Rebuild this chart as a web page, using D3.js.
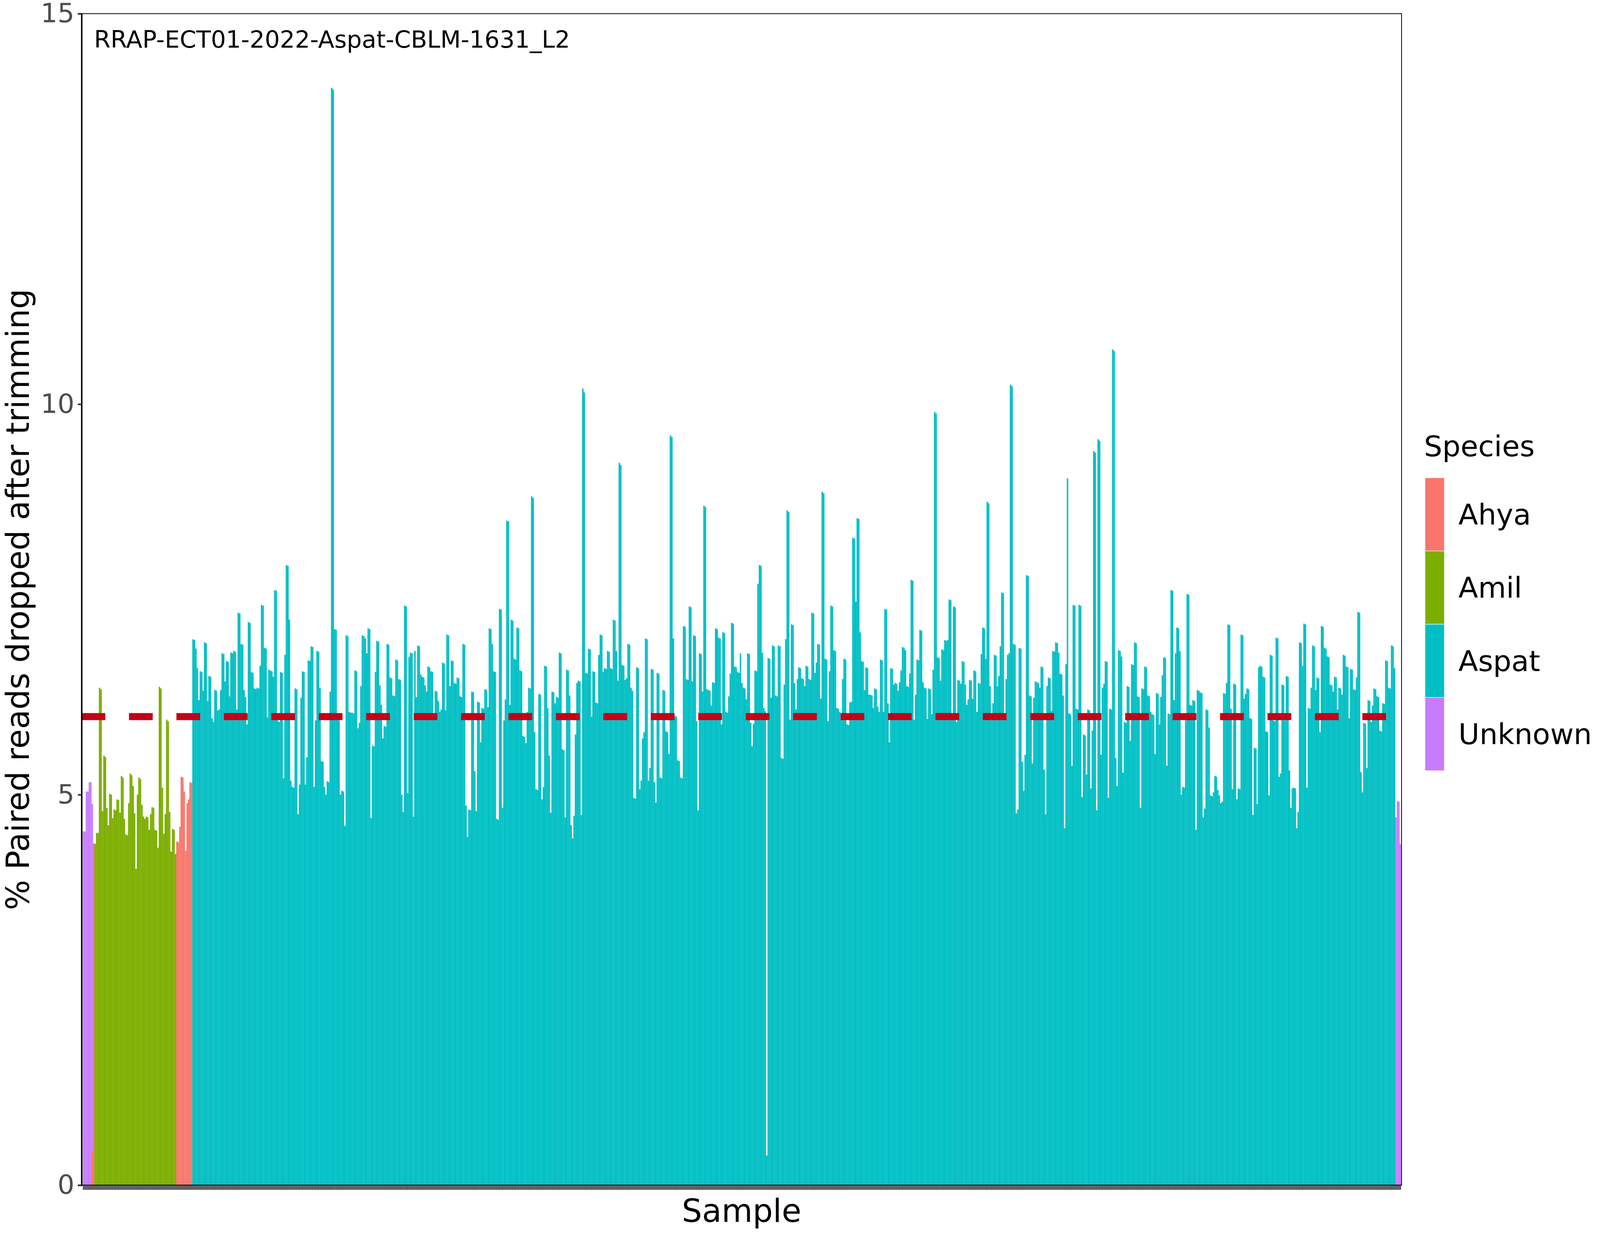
<!DOCTYPE html>
<meta charset="utf-8">
<style>
html, body { margin: 0; width: 100%; height: 100%; overflow: hidden; background: #fff; }
svg { display: block; }
text { font-family: "DejaVu Sans", sans-serif; }
</style>
<body>
<script src="https://d3js.org/d3.v7.min.js"></script>
<script>

// left to right
var unknownHead = [4.53, 4.53, 5.04, 5.04, 5.16, 5.16, 4.88];
var ahyaHead = [4.38];
var amilValues = [4.37, 4.51, 4.51, 6.37, 6.35, 4.79, 5.50, 5.48, 4.83, 4.61, 5.01, 5.00, 4.70, 4.81, 4.80, 4.94, 4.93, 4.77,
  5.24, 5.22, 4.69, 4.49, 4.48, 4.89, 5.27, 5.25, 5.11, 4.76, 4.05, 5.00, 5.22, 5.20, 4.87, 4.72, 4.69, 4.72, 4.71, 4.55,
  4.75, 4.84, 4.83, 4.55, 4.54, 4.32, 6.38, 6.36, 5.09, 4.50, 4.75, 5.96, 5.94, 4.78, 4.27, 4.56, 4.55, 4.24];
var ahyaValues = [4.40, 4.39, 4.59, 5.23, 5.22, 5.04, 4.28, 4.89, 4.94, 5.16, 5.15];

var aspatA = [6.99, 6.98, 6.87, 6.62, 6.21, 6.58, 6.57, 6.33, 6.95, 6.94, 6.20, 6.52, 6.51, 5.98, 5.93, 6.34, 6.33, 6.08,
  6.09, 6.34, 6.81, 6.80, 6.45, 6.71, 6.70, 6.26, 6.82, 6.81, 6.84, 6.83, 6.09, 7.33, 7.32, 6.93, 6.92, 6.34, 6.25, 5.90,
  7.21, 7.20];
var aspatB = [6.57, 6.56, 6.36, 6.35, 6.37, 6.36, 6.65, 7.43, 7.42, 6.88, 6.87, 5.99, 6.60, 6.59, 6.58, 6.51, 7.62, 7.61,
  5.95, 5.93, 6.57, 6.56, 5.21, 6.79, 7.94, 7.93, 7.24, 5.18, 5.10, 5.09, 6.36, 6.35, 4.75, 5.13, 6.24, 6.58, 6.57, 5.13,
  5.48, 6.72, 6.71, 6.90, 6.89, 5.10, 5.95, 6.84, 6.83, 6.37, 5.43, 5.42, 5.10, 5.00, 5.17, 5.16, 6.32, 14.05, 14.03,
  7.12, 7.11, 5.96, 5.95, 5.00, 5.05, 5.04, 4.60, 7.04, 7.03, 6.06, 6.05, 6.05, 6.04, 6.59, 6.58, 5.85, 5.92, 6.39, 7.04,
  7.03, 7.00, 6.81, 7.13, 7.12, 4.70, 5.63, 5.62, 6.57, 6.97, 6.96, 6.40, 6.15, 5.72, 5.88, 5.87, 6.93, 6.92, 6.50, 6.49,
  6.27, 6.26, 6.73, 6.72, 6.48, 6.47, 5.00, 4.78, 7.42, 7.41, 5.02, 6.76, 6.82, 6.81, 4.72];
var aspatC = [6.84, 6.25, 6.91, 6.90, 6.54, 6.51, 6.50, 6.40, 6.32, 6.64, 6.63, 6.58, 6.57, 6.00, 6.33, 6.32, 6.20, 6.06,
  6.09, 6.69, 6.68, 6.08, 7.05, 7.04, 6.39, 6.72, 6.71, 6.43, 6.42, 6.50, 6.49, 6.26, 6.25, 6.93, 6.92, 4.86, 4.46, 4.81,
  4.80, 6.32, 6.31, 5.30, 4.79, 6.19, 6.18, 5.67, 6.11, 6.10, 6.35, 6.34, 6.12, 7.13, 7.12, 6.93, 6.58, 6.57, 4.69, 4.68,
  7.38, 7.37, 4.83, 5.95, 6.22, 8.51, 8.50, 6.15, 7.24, 7.23, 6.74, 6.73, 7.14, 7.13, 6.59, 6.58, 5.75, 5.74, 5.66, 6.06,
  6.37, 6.36, 8.82, 8.80, 5.80, 5.07, 5.06, 6.29, 6.28, 4.94, 5.10, 6.65, 6.64, 6.11, 5.50, 4.77, 6.32, 6.31, 6.17, 6.25,
  6.24, 6.82, 6.81, 5.58, 5.57, 4.71, 6.60, 6.59, 6.27, 4.61, 4.44, 4.73, 5.77, 6.43];
var aspatD = [6.46, 6.45, 4.74, 10.2, 10.15, 6.56, 6.55, 6.87, 6.86, 6.00, 6.58, 6.57, 6.18, 6.17, 6.79, 7.05, 7.04, 6.57,
  6.62, 6.61, 6.84, 6.83, 6.62, 6.61, 7.24, 7.23, 6.84, 6.46, 9.25, 9.22, 6.66, 6.65, 6.47, 6.49, 6.93, 6.92, 6.37, 6.33,
  4.96, 4.95, 6.63, 6.62, 5.07, 5.18, 5.72, 5.80, 7.00, 6.99, 5.18, 5.34, 6.61, 6.60, 5.16, 4.90, 6.56, 6.55, 5.22, 5.21,
  6.34, 6.33, 5.81, 5.80, 5.52, 9.60, 9.58, 7.00, 6.01, 6.00, 5.44, 5.43, 5.22, 5.21, 7.16, 7.15, 6.48, 6.47, 7.41, 7.40,
  6.45, 7.04, 7.03, 5.94, 4.80, 6.81, 6.80, 6.32, 8.70, 8.68, 6.35, 6.34, 6.33, 6.14, 6.44, 6.43, 7.13, 7.12, 7.01, 7.00,
  5.90, 7.08, 7.07, 6.06, 6.05, 6.26, 6.55, 7.20, 7.19, 6.64, 6.63, 6.57, 6.56, 6.81];
var aspatE = [6.43, 6.37, 6.36, 6.22, 6.81, 6.80, 5.92, 5.62, 5.91, 6.59, 6.58, 7.70, 7.94, 7.93, 6.82, 6.11, 6.07, 0.38,
  6.75, 6.74, 6.24, 6.91, 6.90, 6.27, 6.26, 6.91, 6.90, 5.47, 5.46, 6.41, 6.99, 8.64, 8.62, 5.96, 7.18, 7.17, 6.43, 6.09,
  6.48, 6.63, 6.62, 6.49, 6.48, 6.39, 6.65, 6.64, 6.48, 6.47, 7.33, 7.32, 6.56, 6.69, 6.93, 6.92, 6.23, 8.88, 8.86, 6.74,
  6.73, 5.94, 6.58, 7.42, 7.41, 6.85, 6.84, 6.11, 6.10, 6.06, 5.96, 6.48, 6.74, 6.73, 5.90, 5.89, 6.18, 6.19, 8.29, 8.28,
  7.47, 8.54, 8.53, 7.08, 6.71, 6.70, 6.34, 6.63, 6.62, 6.28, 6.28, 6.27, 6.11, 6.36, 6.35, 6.13, 6.06, 6.73, 6.72, 6.06,
  7.38, 7.37, 6.17, 5.67, 6.62, 6.61, 6.41, 6.43, 6.42, 6.33, 6.44, 6.59, 6.89, 6.88];
var aspatF = [6.85, 6.39, 6.38, 6.55, 7.75, 7.74, 5.96, 6.28, 6.73, 6.72, 7.11, 7.10, 6.44, 6.37, 6.36, 5.97, 6.36, 6.35,
  6.03, 6.60, 9.90, 9.88, 6.76, 6.75, 6.46, 6.86, 6.85, 6.98, 6.97, 6.98, 7.50, 7.49, 6.00, 7.41, 7.40, 5.93, 6.47, 6.46,
  6.42, 6.71, 6.70, 6.41, 6.15, 6.22, 6.47, 6.46, 6.23, 6.59, 6.58, 6.06, 6.43, 6.42, 6.80, 7.14, 7.13, 6.74, 8.75, 8.73,
  6.39, 5.96, 6.17, 6.79, 6.78, 6.39, 6.52, 6.90, 7.59, 7.58, 5.97, 6.48, 6.79, 6.81, 10.25, 10.23, 6.93, 6.92, 4.76,
  4.81, 6.88, 6.87, 5.42, 5.05, 5.51, 7.81, 7.80, 6.27, 6.26, 5.40, 6.24, 6.45, 6.44, 6.43, 6.37, 6.64, 6.63, 5.32, 4.75,
  6.39, 6.50, 6.49, 6.07, 6.84, 6.83, 6.95, 6.94, 6.82, 6.55, 6.54, 6.27, 4.57, 6.67, 9.05];
var aspatG = [6.04, 6.03, 5.37, 7.43, 7.42, 6.10, 6.09, 7.43, 7.42, 4.97, 5.77, 5.76, 5.26, 6.09, 6.08, 5.08, 5.82, 9.40,
  9.38, 4.80, 9.55, 9.53, 5.51, 6.37, 6.42, 6.71, 6.70, 4.96, 6.10, 6.09, 10.70, 10.68, 5.47, 5.11, 6.85, 6.84, 6.77, 5.28,
  5.93, 5.92, 6.39, 6.38, 5.69, 6.67, 6.66, 6.95, 6.94, 6.26, 6.25, 4.83, 6.36, 6.35, 6.64, 6.63, 6.27, 6.26, 6.06, 6.03,
  6.02, 5.52, 6.30, 6.29, 5.90, 6.25, 6.53, 6.76, 6.75, 5.37, 6.04, 6.03, 7.62, 7.61, 6.21, 6.81, 7.14, 7.13, 6.84, 5.00,
  5.10, 5.09, 5.95, 7.57, 7.56, 6.15, 6.14, 6.21, 6.20, 4.55, 6.34, 6.33, 6.31, 6.30, 4.71, 4.82, 6.09, 6.08, 5.86, 4.99,
  4.98, 5.03, 5.24, 5.23, 5.06, 4.99, 4.89, 4.91, 6.30, 6.29, 6.43, 7.18, 7.17, 6.10];
var aspatH = [5.07, 6.42, 6.41, 4.94, 5.08, 5.07, 7.05, 7.04, 6.23, 6.29, 6.36, 6.35, 5.98, 5.97, 4.74, 5.60, 5.59, 4.88,
  6.63, 6.65, 6.64, 6.51, 6.50, 5.81, 5.80, 4.99, 6.79, 6.78, 5.95, 5.94, 7.01, 7.00, 5.23, 5.27, 6.41, 6.40, 5.95, 6.52,
  6.51, 5.31, 4.83, 5.08, 5.09, 5.08, 4.57, 4.78, 6.95, 6.94, 6.65, 7.19, 7.18, 5.09, 6.11, 6.10, 6.37, 6.91, 6.90, 6.34,
  6.50, 6.49, 5.80, 7.16, 7.15, 6.88, 6.87, 6.77, 6.76, 6.41, 6.40, 6.32, 6.51, 6.50, 6.09, 6.37, 6.36, 6.28, 6.79, 6.78,
  6.64, 6.63, 5.98, 6.61, 6.60, 6.35, 6.34, 6.50, 7.34, 7.33, 5.29, 5.03, 5.92, 5.91, 5.34, 6.21, 6.20, 5.93, 6.14, 6.36,
  6.35, 6.26, 6.25, 5.82, 5.81, 6.17, 6.16, 6.72, 6.71, 6.37, 6.36, 6.91, 6.90, 6.62];
var unknownTail = [4.71, 4.92, 4.91, 4.37];

// one sample carries a short Ahya bar in front of its Unknown bar
var overlaySample = [6];
var overlaySpecies = ["Ahya"];
var overlayValues = [0.44];

var speciesNames = ["Ahya", "Amil", "Aspat", "Unknown"];
var speciesColors = ["#F8766D", "#7CAE00", "#00BFC4", "#C77CFF"];
var yTicks = [0, 5, 10, 15];
var threshold = 6;
var runName = "RRAP-ECT01-2022-Aspat-CBLM-1631_L2";

var runs = [
  ["Unknown", unknownHead], ["Ahya", ahyaHead], ["Amil", amilValues], ["Ahya", ahyaValues],
  ["Aspat", aspatA.concat(aspatB, aspatC, aspatD, aspatE, aspatF, aspatG, aspatH)],
  ["Unknown", unknownTail]
];

var samples = [];
runs.forEach(function(r) {
  r[1].forEach(function(v) {
    samples.push({i: samples.length, species: r[0], value: v});
  });
});
var overlay = overlaySample.map(function(s, k) {
  return {i: s, species: overlaySpecies[k], value: overlayValues[k]};
});

// layout is laid out on a 5120 x 3200 frame and stretched to whatever the window is
var W = window.innerWidth || 5120, H = window.innerHeight || 3200;
var sx = W / 5120, sy = H / 3200;
function fx(v) { return v * sx; }
function fy(v) { return v * sy; }
function fs(v) { return (v * sx) + "px"; }

var panel = {left: fx(261), right: fx(4485), top: fy(35), bottom: fy(3034)};

var svg = d3.select("body").append("svg")
    .attr("width", W)
    .attr("height", H);

svg.append("rect").attr("width", W).attr("height", H).attr("fill", "#fff");

var x = d3.scaleBand()
    .domain(samples.map(function(d) { return d.i; }))
    .range([panel.left + fx(3.5), panel.right - fx(1)])
    .paddingInner(0)
    .paddingOuter(0.1);

var y = d3.scaleLinear()
    .domain([0, 15])
    .range([panel.bottom, panel.top]);

var color = d3.scaleOrdinal().domain(speciesNames).range(speciesColors);

// bars
svg.append("g").selectAll("rect")
    .data(samples.concat(overlay))
  .enter().append("rect")
    .attr("x", function(d) { return x(d.i); })
    .attr("width", x.bandwidth())
    .attr("y", function(d) { return y(d.value); })
    .attr("height", function(d) { return y(0) - y(d.value); })
    .attr("fill", function(d) { return color(d.species); });

// threshold line
svg.append("line")
    .attr("x1", panel.left)
    .attr("x2", panel.right)
    .attr("y1", y(threshold))
    .attr("y2", y(threshold))
    .attr("stroke", "#C40016")
    .attr("stroke-width", fy(18))
    .attr("stroke-dasharray", fx(75.9) + "," + fx(75.9));

// panel border
svg.append("rect")
    .attr("x", panel.left)
    .attr("y", panel.top)
    .attr("width", panel.right - panel.left)
    .attr("height", panel.bottom - panel.top)
    .attr("fill", "none")
    .attr("stroke", "#000")
    .attr("stroke-width", fx(2.4));

// y axis
var yAxis = d3.axisLeft(y).tickValues(yTicks).tickSize(fx(12)).tickPadding(fx(11));
var gy = svg.append("g")
    .attr("transform", "translate(" + panel.left + ",0)")
    .call(yAxis);
gy.select(".domain").attr("stroke", "#000").attr("stroke-width", fx(4.6));
gy.selectAll(".tick line").attr("stroke", "#333").attr("stroke-width", fy(4));
gy.selectAll(".tick text")
    .attr("fill", "#4D4D4D")
    .style("font-size", fs(85))
    .style("font-family", "'DejaVu Sans', sans-serif");

// x axis: one tick per sample, no labels
var xAxis = d3.axisBottom(x).tickSize(fy(12)).tickFormat("");
var gx = svg.append("g")
    .attr("transform", "translate(0," + panel.bottom + ")")
    .call(xAxis);
gx.select(".domain").attr("stroke", "#000").attr("stroke-width", fy(2.4)).attr("d",
    "M" + panel.left + ",0H" + panel.right);
gx.selectAll(".tick line").attr("stroke", "#333").attr("stroke-width", fx(3.6));

// run label
svg.append("text")
    .attr("x", fx(301))
    .attr("y", fy(122))
    .style("font-size", fs(76))
    .attr("fill", "#000")
    .text(runName);

// axis titles
svg.append("text")
    .attr("x", (panel.left + panel.right) / 2)
    .attr("y", fy(3128))
    .attr("text-anchor", "middle")
    .style("font-size", fs(102))
    .text("Sample");

svg.append("text")
    .attr("transform", "translate(" + fx(93) + "," + ((panel.top + panel.bottom) / 2) + ") rotate(-90)")
    .attr("text-anchor", "middle")
    .style("font-size", fs(102))
    .text("% Paired reads dropped after trimming");

// legend
var keyH = fy(187.5), keyW = fx(62);
var legend = svg.append("g").attr("transform", "translate(" + fx(4560) + "," + fy(1223) + ")");
legend.append("text")
    .attr("x", fx(-3))
    .attr("y", fy(-55))
    .style("font-size", fs(92))
    .text("Species");

var item = legend.selectAll(".key")
    .data(speciesNames)
  .enter().append("g")
    .attr("class", "key")
    .attr("transform", function(d, i) { return "translate(0," + i * keyH + ")"; });

item.append("rect")
    .attr("width", keyW)
    .attr("height", keyH)
    .attr("fill", function(d) { return color(d); })
    .attr("stroke", "#fff")
    .attr("stroke-width", fx(1.5));

item.append("text")
    .attr("x", fx(107))
    .attr("y", keyH / 2)
    .attr("dy", "0.35em")
    .style("font-size", fs(92))
    .text(function(d) { return d; });

</script>
</body>
